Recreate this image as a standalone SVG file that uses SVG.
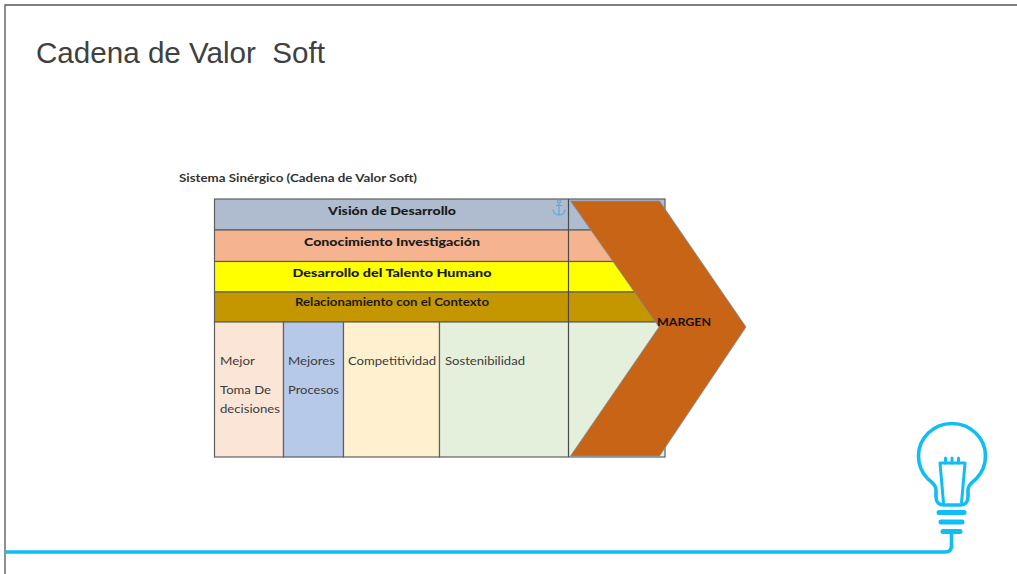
<svg xmlns="http://www.w3.org/2000/svg" width="1017" height="574" viewBox="0 0 1017 574">
<style>
.cell{stroke:#5f5f5f;stroke-width:1.2}
.b{font-family:Lato,"Open Sans",sans-serif;font-weight:700;font-size:12px;fill:#1a1a1a}
.r{font-family:Lato,"Open Sans",sans-serif;font-size:12px;fill:#3c3c3c}
.bulb{fill:none;stroke:#10bdf4;stroke-width:3.6;stroke-linecap:round;stroke-linejoin:round}
</style>
<rect width="1017" height="574" fill="#fff"/>
<path d="M5 574V5H1017" fill="none" stroke="#555" stroke-width="1.3"/>
<text x="36" y="62.500" font-family="Liberation Sans,Arial,sans-serif" font-size="29.600" fill="#404040" xml:space="preserve">Cadena de Valor  Soft</text>
<text id="subtitle" x="179" y="182" class="b" textLength="238" lengthAdjust="spacingAndGlyphs" style="fill:#333">Sistema Sinérgico (Cadena de Valor Soft)</text>
<g id="row-vision"><rect class="cell" x="214.500" y="199" width="450.500" height="31" fill="#afbccf"/><text class="b" x="392" y="214.500" text-anchor="middle" textLength="128" lengthAdjust="spacingAndGlyphs" style="font-weight:900">Visión de Desarrollo</text></g>
<g id="row-conocimiento"><rect class="cell" x="214.500" y="230" width="450.500" height="31.500" fill="#f5b48f"/><text class="b" x="392" y="245.500" text-anchor="middle" textLength="176" lengthAdjust="spacingAndGlyphs" style="font-weight:900">Conocimiento Investigación</text></g>
<g id="row-talento"><rect class="cell" x="214.500" y="261.500" width="450.500" height="30.500" fill="#ffff00"/><text class="b" x="392" y="277" text-anchor="middle" textLength="199" lengthAdjust="spacingAndGlyphs" style="font-weight:900">Desarrollo del Talento Humano</text></g>
<g id="row-contexto"><rect class="cell" x="214.500" y="292" width="450.500" height="30" fill="#c49600"/><text class="b" x="392" y="306" text-anchor="middle" textLength="194" lengthAdjust="spacingAndGlyphs">Relacionamiento con el Contexto</text></g>
<g id="col-decisiones"><rect class="cell" x="214.500" y="322" width="69" height="135" fill="#fbe5d6"/><text class="r" x="220" y="365" textLength="35" lengthAdjust="spacingAndGlyphs">Mejor</text><text class="r" x="220" y="394" textLength="51" lengthAdjust="spacingAndGlyphs">Toma De</text><text class="r" x="220" y="413" textLength="60" lengthAdjust="spacingAndGlyphs">decisiones</text></g>
<g id="col-procesos"><rect class="cell" x="283.500" y="322" width="60" height="135" fill="#b7c9e8"/><text class="r" x="288" y="365" textLength="47" lengthAdjust="spacingAndGlyphs">Mejores</text><text class="r" x="288" y="394" textLength="51" lengthAdjust="spacingAndGlyphs">Procesos</text></g>
<g id="col-competitividad"><rect class="cell" x="343.500" y="322" width="96" height="135" fill="#fff1d0"/><text class="r" x="348" y="365" textLength="88" lengthAdjust="spacingAndGlyphs">Competitividad</text></g>
<g id="col-sostenibilidad"><rect class="cell" x="439.500" y="322" width="225.500" height="135" fill="#e4efdc"/><text class="r" x="445" y="365" textLength="80" lengthAdjust="spacingAndGlyphs">Sostenibilidad</text></g>
<g id="connectors"><path d="M568.500 199V457" stroke="#4a4a4a" stroke-width="1.2" fill="none"/></g>
<g id="anchor-icon" fill="none" stroke="#5aa9dc" stroke-width="1.200"><circle cx="559" cy="201.500" r="1.500"/><path d="M559 203V215M556 205.500H562M553 209.500C553.500 213.500 556 215 559 215C562 215 564.500 213.500 565 209.500"/></g>
<g id="margen"><path d="M570.500 201H659.500L746 327L659.500 456H570.500L659 327Z" fill="#c86415" stroke="#7b8ea8" stroke-width="0.800"/><text class="b" x="657" y="325.500" textLength="54" lengthAdjust="spacingAndGlyphs" style="fill:#111">MARGEN</text></g>
<g id="baseline"><path d="M5 552H945Q951.500 552 951.500 546V531" fill="none" stroke="#10bdf4" stroke-width="3.600"/></g>
<g id="bulb"><path class="bulb" d="M936 497V490C936 484 931 482 928 479C922 473 918.500 465 918.500 456C918.500 438 933.500 423.500 952 423.500C970.500 423.500 985.500 438 985.500 456C985.500 465 982 473 976 479C973 482 968 484 968 490V497C968 502 965 505 960 505H944C939 505 936 502 936 497Z"/><path class="bulb" d="M943.500 503L940 463H965L961.500 503" style="stroke-width:3"/><path class="bulb" d="M945.500 463V458M952 463V458M958.500 463V458" style="stroke-width:3"/><path class="bulb" d="M939 512.500H964M941 522H962M943 531.500H960" style="stroke-width:5"/></g>
</svg>
